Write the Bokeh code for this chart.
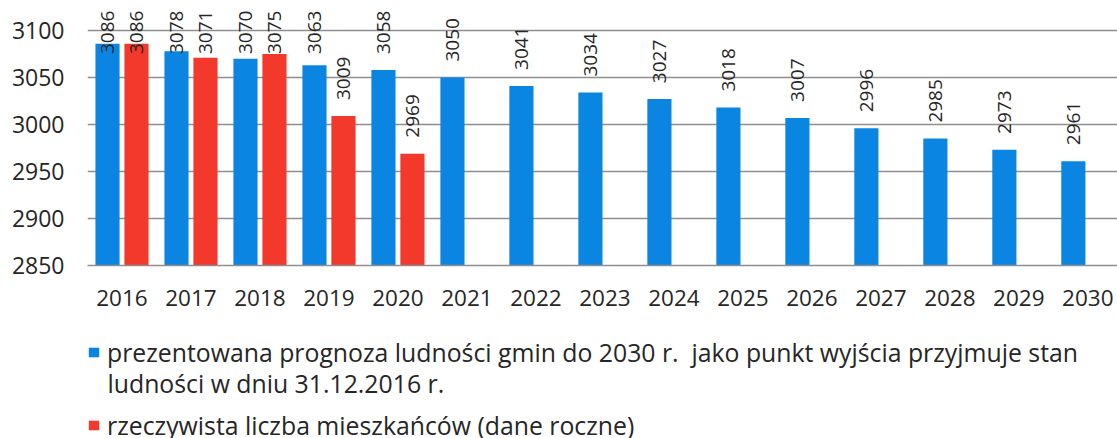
import numpy as np
from bokeh.plotting import figure
from bokeh.layouts import column
from bokeh.core.properties import value
from bokeh.models import (ColumnDataSource, LabelSet, Label, Legend, LegendItem,
                          FixedTicker, Range1d)
from bokeh.embed import file_html
from bokeh.resources import INLINE

# ---- data ----
years = [2016, 2017, 2018, 2019, 2020, 2021, 2022, 2023, 2024, 2025,
         2026, 2027, 2028, 2029, 2030]
forecast = [3086, 3078, 3070, 3063, 3058, 3050, 3041, 3034, 3027, 3018,
            3007, 2996, 2985, 2973, 2961]
actual_years = [2016, 2017, 2018, 2019, 2020]
actual = [3086, 3071, 3075, 3009, 2969]
y_ticks = [2850, 2900, 2950, 3000, 3050, 3100]

label_forecast_1 = ("prezentowana prognoza ludności gmin do 2030 r.  jako punkt "
                    "wyjścia przyjmuje stan")
label_forecast_2 = "ludności w dniu 31.12.2016 r."
label_actual = "rzeczywista liczba mieszkańców (dane roczne)"

BLUE = "#0A86E2"
RED = "#F2392B"
GRID = "#8E8E8E"
TEXT = "#262626"
FONT = "Open Sans"

# ---- geometry helpers ----
idx_f = np.arange(len(years))
idx_a = np.array([years.index(y) for y in actual_years])
off = 0.21
bw = 0.35

y0, y1 = 2850, 3131.9
# value labels: just above bar, but kept within the top of the chart
lab_f = np.minimum(np.array(forecast) + 17, 3075)
lab_a = np.minimum(np.array(actual) + 17, 3075)

src_f = ColumnDataSource(dict(x=idx_f - off, top=forecast, ly=lab_f,
                              txt=[str(v) for v in forecast]))
src_a = ColumnDataSource(dict(x=idx_a + off, top=actual, ly=lab_a,
                              txt=[str(v) for v in actual]))

p = figure(frame_width=1030, frame_height=265, output_backend="svg",
           toolbar_location=None,
           x_range=Range1d(-0.5, 14.43), y_range=Range1d(y0, y1),
           min_border_left=87, min_border_right=0, min_border_top=0,
           min_border_bottom=70)
p.outline_line_color = None

rb = p.vbar(x="x", top="top", bottom=y0, width=bw, source=src_f,
            fill_color=BLUE, line_color=None)
rr = p.vbar(x="x", top="top", bottom=y0, width=bw, source=src_a,
            fill_color=RED, line_color=None)

for src in (src_f, src_a):
    p.add_layout(LabelSet(x="x", y="ly", text="txt", source=src, angle=np.pi / 2,
                          text_align="left", text_baseline="middle",
                          text_font=value(FONT), text_font_size="19px",
                          text_color=TEXT))

# axes
p.xaxis.ticker = FixedTicker(ticks=list(idx_f))
p.xaxis.major_label_overrides = {int(i): str(y) for i, y in zip(idx_f, years)}
p.xaxis.axis_line_color = GRID
p.xaxis.axis_line_width = 1.5
p.xaxis.major_tick_line_color = None
p.xaxis.minor_tick_line_color = None
p.xaxis.major_label_standoff = 18
p.xaxis.major_label_text_font = FONT
p.xaxis.major_label_text_font_size = "22.5px"
p.xaxis.major_label_text_color = TEXT

p.yaxis.ticker = FixedTicker(ticks=y_ticks)
p.yaxis.axis_line_color = None
p.yaxis.major_tick_line_color = None
p.yaxis.minor_tick_line_color = None
p.yaxis.major_label_standoff = 17
p.yaxis.major_label_text_font = FONT
p.yaxis.major_label_text_font_size = "23px"
p.yaxis.major_label_text_color = TEXT

p.xgrid.grid_line_color = None
p.ygrid.ticker = FixedTicker(ticks=y_ticks)
p.ygrid.grid_line_color = GRID
p.ygrid.grid_line_width = 1.5

# ---- legend panel (separate figure underneath) ----
LG_H = 103
lg = figure(width=1117, height=LG_H, output_backend="svg",
            toolbar_location=None,
            x_range=Range1d(0, 1), y_range=Range1d(0, 1),
            min_border=0, x_axis_type=None, y_axis_type=None)
lg.outline_line_color = None
lg.grid.grid_line_color = None
# the same series as legend keys only (not drawn in this panel)
kb = lg.vbar(x="x", top="top", bottom=y0, width=bw, source=src_f,
             fill_color=BLUE, line_color=None, visible=False)
kr = lg.vbar(x="x", top="top", bottom=y0, width=bw, source=src_a,
             fill_color=RED, line_color=None, visible=False)

legend = Legend(items=[LegendItem(label=label_forecast_1, renderers=[kb]),
                       LegendItem(label=label_actual, renderers=[kr])],
                orientation="vertical", location="top_left",
                spacing=39, padding=0, margin=0,
                border_line_color=None, background_fill_alpha=0,
                inactive_fill_alpha=0,
                glyph_width=13, glyph_height=12, label_standoff=7,
                label_text_font=FONT, label_text_font_size="24.8px",
                label_text_color=TEXT)
lg.add_layout(legend)
lg.add_layout(Label(x=20 / 1030, y=(LG_H - 47) / LG_H,
                    text=label_forecast_2, text_font=FONT,
                    text_font_size="24.8px", text_color=TEXT,
                    text_align="left", text_baseline="middle"))

open("out.html", "w").write(file_html(column(p, lg, spacing=0), INLINE))
